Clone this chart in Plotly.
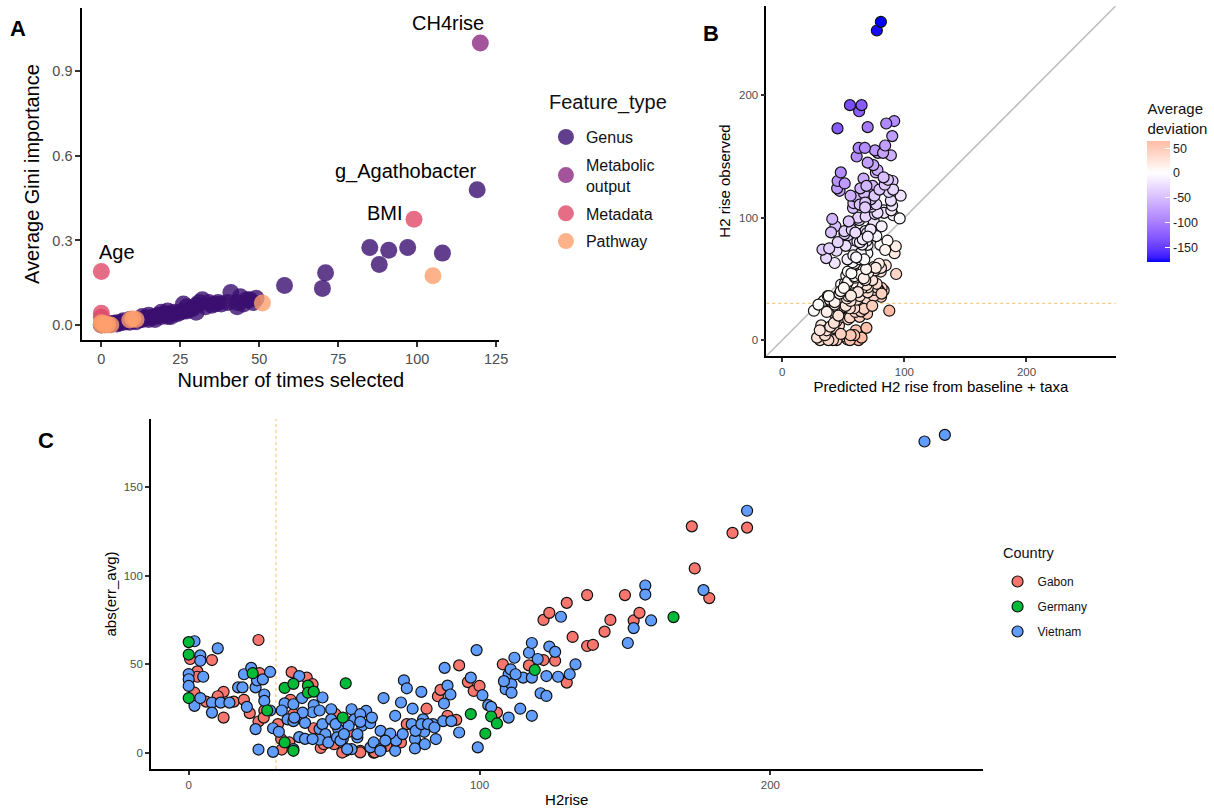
import numpy as np
import plotly.graph_objects as go

# ---------------- Panel A: feature importance ----------------
genus_times = [119, 85, 88, 91, 97, 108, 70, 71, 58,
               49, 48, 46, 44, 43, 43, 41, 45, 47, 40, 38, 37, 36, 35, 34, 33, 32, 31, 30, 30,
               29, 28, 27, 27, 26, 26, 25, 24, 23, 22, 22, 21, 21, 20, 19, 19, 18, 17, 17,
               16, 15, 15, 14, 13, 13, 12, 11, 10, 9, 9, 8, 7, 7, 6, 5, 5, 4, 3, 3, 2, 2,
               1, 1, 0, 0]
genus_gini = [0.48, 0.275, 0.215, 0.265, 0.275, 0.255, 0.13, 0.185, 0.14,
              0.095, 0.08, 0.09, 0.10, 0.065, 0.08, 0.115, 0.075, 0.09, 0.08, 0.075, 0.08, 0.075,
              0.07, 0.08, 0.065, 0.09, 0.08, 0.07, 0.045,
              0.06, 0.055, 0.05, 0.065, 0.075, 0.05, 0.045, 0.04, 0.045, 0.04, 0.03, 0.03, 0.05,
              0.04, 0.045, 0.03, 0.035, 0.03, 0.02,
              0.028, 0.035, 0.02, 0.025, 0.02, 0.03, 0.018, 0.012, 0.015, 0.01, 0.02, 0.012,
              0.01, 0.015, 0.008, 0.008, 0.004, 0.006, 0.005, 0.002, 0.004, 0.001,
              0.003, 0.001, 0.002, 0.0]
metabolic_times = [120]
metabolic_gini = [1.0]
metadata_times = [0, 99, 0, 0]
metadata_gini = [0.19, 0.375, 0.042, 0.028]
pathway_times = [105, 51, 10, 11, 9, 0, 1, 2, 0, 1, 3]
pathway_gini = [0.175, 0.078, 0.022, 0.02, 0.018, 0.0, 0.0, 0.002, 0.008, 0.005, 0.0]

feature_types = ["Genus", "Metabolic<br>output", "Metadata", "Pathway"]
feature_colors = ["#3B0F70", "#8C2981", "#DE4968", "#FE9F6D"]

# ---------------- Panels B/C: H2 rise prediction error per subject ----------------
# err_avg = predicted - observed
gabon_h2rise = [0.5, 3, 3, 2, 6, 8, 12, 10, 12, 15.5, 19, 21, 24.4, 24, 26, 24, 25.8, 30.7, 32, 31.8,
                34.6, 35.4, 35, 36, 40.6, 42.6, 43, 45.4, 46.5, 47, 50, 50.5, 54, 52.8, 55, 59, 59,
                63.6, 64, 68, 73, 75, 81.8, 85.7, 86.6, 89, 92, 93, 96, 98, 100, 106, 108, 109, 117,
                122, 122, 124, 126, 130, 130, 132, 137, 137, 139, 143, 145, 150, 153, 155, 173, 174,
                179, 187, 192]
gabon_err = [53, 46, 43, 34, 29, 52.4, 34.5, 32, 20, 29, 30, 22.5, 45, 63.7, 24, 17.8, 20, 16.3, 2, 7.9,
             6, 45.6, 30, 22, 42.5, 38.8, 14, 2.9, 5, 10, 5, 21.9, 1.3, -0.3, 12, 1.3, -0.4,
             0.2, -0.4, -4, -6, -16.3, -25, -32, -35.6, -21, -18.7, -49.4, -40, -35, -37.8, -22.8, -50,
             -38, -49.4, -52.4, -75, -79, -52, -84.6, -39.7, -65.4, -89, -60.3, -61, -68.4, -75, -89,
             -74.7, -79, -127.7, -104, -87.3, -124, -127]

germany_h2rise = [0, 0, 0, 22, 27, 33, 36, 33, 36, 41, 41, 43, 53, 54, 97, 102, 104, 106, 119, 166.7]
germany_err = [62.5, 55.5, 31, 45, 24, 6, 1.3, 36.7, 39, 38, 34, 34.6, 20, 39.3, -22, -11, -20.6,
               -16.7, -46.8, -76.6]

vietnam_h2rise = [2, 4, 4, 10, 0, 0, 0, 5, 2, 4, 8, 8, 11, 14, 17, 18.5, 19, 21.5, 20, 23, 23.5, 25.5,
                  28, 26, 26, 28, 23, 24, 29, 29, 31,
                  33, 36, 32, 34, 36, 36, 38, 39, 46, 43, 40, 38, 40, 42.6, 45, 45, 46, 47, 45, 48,
                  49, 49, 51.4, 53, 56, 57, 55, 56, 58, 59.6, 61, 42.6, 51, 52.2, 53.4, 54.5, 50.5,
                  39.2, 36.3, 59, 62.4, 59, 58, 62.5, 63,
                  63.6, 66, 66, 67, 68.7, 71, 71, 71.3, 73, 74, 75, 77, 76.7, 77.8, 77.8, 80, 80.6,
                  81, 81.2, 84, 85, 88, 89, 90, 87.5, 90.3, 93, 97, 99, 99.4, 69.3, 65.9, 67.6, 78,
                  80, 82.3, 84.5, 73.6, 87.8,
                  101, 103, 104, 109, 110, 110, 111, 111, 112, 114, 115, 117, 118, 118, 118, 120,
                  121, 123, 123, 124, 126, 127, 128, 131, 133, 151, 153, 157, 157, 159, 177, 192,
                  253, 260, 110.7, 112.4, 108.4]
vietnam_err = [63, 55, 52, 59, 44.5, 41.6, 37.8, 43, 26.6, 31, 28.4, 22.8, 28.4, 28.4, 37, 37, 44.4,
               48, 26, 37, 41, 41.5, 45.7, 33, 29.4, 24, 13.5, 2, 0.7, 14, 12,
               28, 27.5, 24, 19, 18, 2.2, 43.4, 31, 31.3, 27, 17, 9, 8, 23, 24, 13.5, 16.3, 10.7,
               7.5, 6, 24.7, 19, 13.5, 8, 24.7, 19, 15.4, -2.2, 8.8, 15.4, 23.8, 7.9, 8.8, 7, 10.7,
               2.2, 16.3, 22.8, 20, 21.9, 16.8, 17.6, 10.7, -3.2, -20,
               -6, -12.5, -2.2, -31, -8.8, -1.3, 21, -7, -28.5, -41, -36.5, -25, 16.3, -7.9, 2.6,
               -34.5, -19, -12, 5, -16.3, -7.9, -48, -38, -33, -18, -18, -11.6, -42.5, -58, -3.2,
               -11, 1.3, -7, -12.5, -16.3, -16.3, -14.4, 10.7, -27.9,
               -32.6, -27, -26, -36, -44.4, -20, -38.8, -34, -53.7, -25, -42.5, -56.5, -62, -42.5,
               -21, -53, -33.7, -43.4, -32.2, -60, -57, -43, -76.8, -44.4, -50, -62, -70.4, -94.4,
               -89.3, -74.7, -91.8, -136.5, -175.5, -179.2, -47.2, -44.4, -40.5]

countries = ["Gabon", "Germany", "Vietnam"]
country_colors = ["#F8766D", "#00BA38", "#619CFF"]
h2_threshold = 30
deviation_ticks = [-150, -100, -50, 0, 50]

FONT = "Liberation Sans, Arial, sans-serif"
TICK_COLOR = "#4D4D4D"


# ---------- Lab-space gradient (low / mid / high), midpoint at 0 ----------
def hex_to_lab(h):
    rgb = np.array([int(h[i:i + 2], 16) for i in (1, 3, 5)]) / 255.0
    lin = np.where(rgb <= 0.04045, rgb / 12.92, ((rgb + 0.055) / 1.055) ** 2.4)
    m = np.array([[0.4124, 0.3576, 0.1805], [0.2126, 0.7152, 0.0722], [0.0193, 0.1192, 0.9505]])
    xyz = m @ lin / np.array([0.95047, 1.0, 1.08883])
    d = 6 / 29
    f = np.where(xyz > d ** 3, np.cbrt(xyz), xyz / (3 * d * d) + 4 / 29)
    return np.array([116 * f[1] - 16, 500 * (f[0] - f[1]), 200 * (f[1] - f[2])])


def lab_to_hex(lab):
    d = 6 / 29
    fy = (lab[0] + 16) / 116
    fx = fy + lab[1] / 500
    fz = fy - lab[2] / 200
    f = np.array([fx, fy, fz])
    xyz = np.where(f > d, f ** 3, 3 * d * d * (f - 4 / 29)) * np.array([0.95047, 1.0, 1.08883])
    minv = np.array([[3.2406, -1.5372, -0.4986], [-0.9689, 1.8758, 0.0415], [0.0557, -0.2040, 1.0570]])
    lin = np.clip(minv @ xyz, 0, 1)
    rgb = np.where(lin <= 0.0031308, 12.92 * lin, 1.055 * lin ** (1 / 2.4) - 0.055)
    rgb = np.clip(np.round(rgb * 255), 0, 255).astype(int)
    return "#%02x%02x%02x" % tuple(rgb)


def gradient2_scale(vmin, vmax, low="#0000FF", mid="#FFFFFF", high="#FF0000", n=31):
    span = 2 * max(abs(vmin), abs(vmax))
    labs = [hex_to_lab(low), hex_to_lab(mid), hex_to_lab(high)]
    stops = []
    for t in np.linspace(0, 1, n):
        v = vmin + t * (vmax - vmin)
        r = v / span + 0.5
        if r <= 0.5:
            lab = labs[0] + (labs[1] - labs[0]) * (r / 0.5)
        else:
            lab = labs[1] + (labs[2] - labs[1]) * ((r - 0.5) / 0.5)
        stops.append([float(t), lab_to_hex(lab)])
    return stops


W, H = 1214, 811
fig = go.Figure()

# ---------------- Panel A traces ----------------
groups_a = [(genus_times, genus_gini), (metabolic_times, metabolic_gini),
            (metadata_times, metadata_gini), (pathway_times, pathway_gini)]
for name, color, (xs, ys) in zip(feature_types, feature_colors, groups_a):
    fig.add_trace(go.Scatter(
        x=xs, y=ys, mode="markers", name=name, legend="legend", legendgroup=name,
        marker=dict(size=17, color=color, opacity=0.8, line=dict(width=0)),
        xaxis="x", yaxis="y", hoverinfo="x+y"))

# ---------------- Panel B trace ----------------
obs_all = np.array(gabon_h2rise + germany_h2rise + vietnam_h2rise, dtype=float)
err_all = np.array(gabon_err + germany_err + vietnam_err, dtype=float)
pred_all = obs_all + err_all
cmin, cmax = float(err_all.min()), float(err_all.max())

fig.add_trace(go.Scatter(
    x=pred_all, y=obs_all, mode="markers", showlegend=False,
    xaxis="x2", yaxis="y2",
    marker=dict(size=11, color=err_all, cmin=cmin, cmax=cmax,
                colorscale=gradient2_scale(cmin, cmax),
                line=dict(color="#111111", width=1.2),
                colorbar=dict(
                    title=dict(text="Average<br>deviation", side="top",
                               font=dict(size=15, family=FONT, color="#111")),
                    x=1156 / W, xanchor="left", xpad=0,
                    y=1 - 181 / H, yanchor="middle", ypad=0,
                    len=162, lenmode="pixels", thickness=23,
                    outlinewidth=0, ticks="inside", ticklen=5, tickcolor="white",
                    tickvals=deviation_ticks,
                    ticktext=[str(v) for v in deviation_ticks],
                    tickfont=dict(size=12.5, family=FONT, color="#222"))),
))

# ---------------- Panel C traces ----------------
groups_c = [(gabon_h2rise, gabon_err), (germany_h2rise, germany_err), (vietnam_h2rise, vietnam_err)]
for idx in [0, 2, 1]:
    xs, es = groups_c[idx]
    fig.add_trace(go.Scatter(
        x=xs, y=np.abs(np.array(es)), mode="markers", name=countries[idx],
        legend="legend2", legendgroup=countries[idx], legendrank=idx,
        marker=dict(size=11, color=country_colors[idx], line=dict(color="#111111", width=1.2)),
        xaxis="x3", yaxis="y3"))

# ---------------- axes ----------------
obs_hi = float(obs_all.max())
bc_range = [-0.05 * obs_hi, 1.05 * obs_hi]
abs_hi = float(np.abs(err_all).max())
c_yrange = [-0.05 * abs_hi, 1.05 * abs_hi]


def axis(domain, rng, tickvals, tfont, lw, tlen, title, title_size, standoff, anchor, fmt=None):
    d = dict(domain=domain, range=rng, tickvals=tickvals, showline=True, linecolor="black",
             linewidth=lw, ticks="outside", ticklen=tlen, tickwidth=lw, tickcolor="#333333",
             showgrid=False, zeroline=False, anchor=anchor,
             tickfont=dict(size=tfont, color=TICK_COLOR, family=FONT),
             title=dict(text=title, standoff=standoff, font=dict(size=title_size, color="black", family=FONT)))
    if fmt:
        d["tickformat"] = fmt
    return d


fig.update_layout(
    width=W, height=H, margin=dict(l=0, r=0, t=0, b=0),
    paper_bgcolor="white", plot_bgcolor="white",
    font=dict(family=FONT),
    xaxis=axis([83 / W, 503 / W], [-6, 126], [0, 25, 50, 75, 100, 125], 14.5, 2, 5,
               "Number of times selected", 20, 7, "y"),
    yaxis=axis([1 - 340 / H, 1 - 8 / H], [-0.053, 1.124], [0, 0.3, 0.6, 0.9], 14.5, 2, 5,
               "Average Gini importance", 20, 7, "x", ".1f"),
    xaxis2=axis([772 / W, 1124 / W], bc_range, [0, 100, 200], 11.5, 1.5, 4,
                "Predicted H2 rise from baseline + taxa", 15, 5, "y2"),
    yaxis2=axis([1 - 356 / H, 1 - 6 / H], bc_range, [0, 100, 200], 11.5, 1.5, 4,
                "H2 rise observed", 15, 5, "x2"),
    xaxis3=axis([152 / W, 990 / W], bc_range, [0, 100, 200], 11.5, 1.5, 4,
                "H2rise", 15, 5, "y3"),
    yaxis3=axis([1 - 769 / H, 1 - 419 / H], c_yrange, [0, 50, 100, 150], 11.5, 1.5, 4,
                "abs(err_avg)", 15, 3, "x3"),
    legend=dict(x=550 / W, y=1 - 120 / H, xanchor="left", yanchor="top",
                font=dict(size=16, color="#111"), tracegroupgap=4, bgcolor="rgba(0,0,0,0)"),
    legend2=dict(x=1005 / W, y=1 - 567 / H, xanchor="left", yanchor="top",
                 font=dict(size=12, color="#111"), tracegroupgap=6, bgcolor="rgba(0,0,0,0)"),
    showlegend=True,
)

# legend titles
fig.add_annotation(x=551 / W, y=1 - 103 / H, xref="paper", yref="paper", text="Feature_type",
                   showarrow=False, xanchor="left", yanchor="middle",
                   font=dict(size=20, color="#111", family=FONT))
fig.add_annotation(x=1008 / W, y=1 - 553 / H, xref="paper", yref="paper", text="Country",
                   showarrow=False, xanchor="left", yanchor="middle",
                   font=dict(size=14.5, color="#111", family=FONT))

# reference lines
fig.add_shape(type="line", xref="x2", yref="y2", x0=bc_range[0], y0=bc_range[0],
              x1=bc_range[1], y1=bc_range[1], line=dict(color="#BEBEBE", width=1.6), layer="below")
fig.add_shape(type="line", xref="x2", yref="y2", x0=bc_range[0], x1=bc_range[1],
              y0=h2_threshold, y1=h2_threshold, line=dict(color="#F5C97E", width=1.2, dash="dot"),
              layer="below")
fig.add_shape(type="line", xref="x3", yref="y3", x0=h2_threshold, x1=h2_threshold,
              y0=c_yrange[0], y1=c_yrange[1], line=dict(color="#F5C97E", width=1.2, dash="dot"),
              layer="below")

# feature labels in panel A, anchored to their points
label_points = [
    ("CH4rise", metabolic_times[0], metabolic_gini[0], -32, 20),
    ("g_Agathobacter", genus_times[0], genus_gini[0], -71, 18),
    ("BMI", metadata_times[1], metadata_gini[1], -29, 6),
    ("Age", metadata_times[0], metadata_gini[0], 16, 19),
]
for text, lx, ly, dx, dy in label_points:
    fig.add_annotation(x=lx, y=ly, xref="x", yref="y", text=text, showarrow=False,
                       xshift=dx, yshift=dy, font=dict(size=20, color="black", family=FONT))

# panel letters
for letter, px, py in [("A", 18, 28), ("B", 716, 33), ("C", 46, 440)]:
    fig.add_annotation(x=px / W, y=1 - py / H, xref="paper", yref="paper", text="<b>%s</b>" % letter,
                       showarrow=False, xanchor="center", yanchor="middle",
                       font=dict(size=22, color="black", family=FONT))

fig.write_html("out.html")
